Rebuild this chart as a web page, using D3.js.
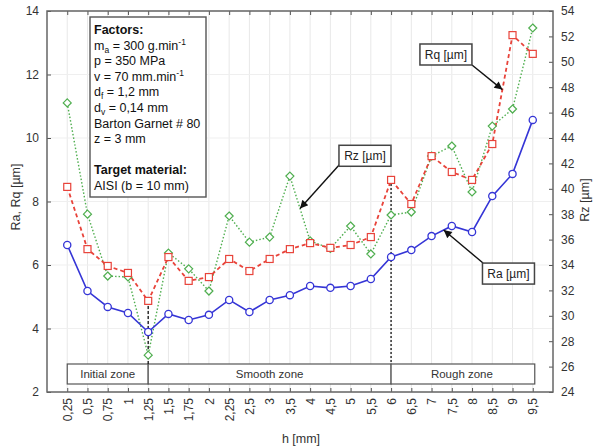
<!DOCTYPE html>
<html>
<head>
<meta charset="utf-8">
<script src="https://cdn.jsdelivr.net/npm/d3@7"></script>
<style>
  body { margin: 0; background: #fff; }
  svg { font-family: "Liberation Sans", Arial, sans-serif; }
  .tick text { fill: #333; font-size: 12px; }
</style>
</head>
<body>
<script>
// h values and their printed labels
var hLabels = ["0,25","0,5","0,75","1","1,25","1,5","1,75","2","2,25","2,5","3","3,5","4","4,5","5","5,5","6","6,5","7","7,5","8","8,5","9","9,5"];
var Ra = [6.63,5.18,4.68,4.49,3.89,4.46,4.27,4.43,4.9,4.52,4.9,5.05,5.34,5.28,5.34,5.56,6.25,6.47,6.91,7.23,7.04,8.17,8.87,10.57];
var Rq = [8.46,6.5,5.97,5.75,4.87,6.25,5.5,5.62,6.19,5.81,6.19,6.5,6.69,6.54,6.63,6.88,8.68,7.92,9.43,8.93,8.68,9.81,13.24,12.65];
var Rz = [46.76,38.0,33.13,33.06,26.9,34.94,33.7,31.95,37.86,35.8,36.2,41.0,35.9,35.3,37.07,34.87,37.94,38.17,42.58,43.37,39.75,44.94,46.28,52.66];
var leftTicks = [2,4,6,8,10,12,14];
var rightTicks = [24,26,28,30,32,34,36,38,40,42,44,46,48,50,52,54];
var zones = [["Initial zone","0,25","1,25"],["Smooth zone","1,25","6"],["Rough zone","6","9,5"]];
var factors = [
  {t:"Factors:", b:true},
  {t:"m", sub:"a", rest:" = 300 g.min", sup:"-1"},
  {t:"p =  350 MPa"},
  {t:"v = 70 mm.min", sup:"-1"},
  {t:"d", sub:"f", rest:" = 1,2 mm"},
  {t:"d", sub:"v", rest:" = 0,14 mm"},
  {t:"Barton Garnet # 80"},
  {t:"z = 3 mm"},
  {t:""},
  {t:"Target material:", b:true},
  {t:"AISI (b = 10 mm)"}
];

var W = 593, H = 448;
var m = {l:47, r:553, t:11, b:392};

var svg = d3.select("body").append("svg")
    .attr("width", W).attr("height", H);

var x = d3.scalePoint().domain(hLabels).range([m.l, m.r]).padding(1);
var yL = d3.scaleLinear().domain([2,14]).range([m.b, m.t]);
var yR = d3.scaleLinear().domain([24,54]).range([m.b, m.t]);
// fractional category position, used for annotations
function xf(f) { return x(hLabels[0]) + f * x.step(); }

// grid
svg.append("g").selectAll("line").data(hLabels).enter().append("line")
    .attr("x1", function(d){return x(d);}).attr("x2", function(d){return x(d);})
    .attr("y1", m.t).attr("y2", m.b)
    .attr("stroke", "#e8e8e8").attr("stroke-width", 1);
svg.append("g").selectAll("line").data(leftTicks).enter().append("line")
    .attr("x1", m.l).attr("x2", m.r)
    .attr("y1", function(d){return yL(d);}).attr("y2", function(d){return yL(d);})
    .attr("stroke", "#efefef").attr("stroke-width", 1);

// axes (ticks pointing inside)
var axB = svg.append("g").attr("transform", "translate(0," + m.b + ")")
    .call(d3.axisBottom(x).tickSizeInner(-4).tickSizeOuter(0).tickPadding(6));
axB.selectAll("text")
    .attr("transform", "rotate(-90)")
    .attr("text-anchor", "end")
    .attr("x", -6).attr("y", 0).attr("dy", "0.35em");
svg.append("g").attr("transform", "translate(0," + m.t + ")")
    .call(d3.axisTop(x).tickSizeInner(-4).tickSizeOuter(0).tickFormat(""));
svg.append("g").attr("transform", "translate(" + m.l + ",0)")
    .call(d3.axisLeft(yL).tickValues(leftTicks).tickSizeInner(-4).tickSizeOuter(0).tickPadding(8));
svg.append("g").attr("transform", "translate(" + m.r + ",0)")
    .call(d3.axisRight(yR).tickValues(rightTicks).tickSizeInner(-4).tickSizeOuter(0).tickPadding(8));
svg.selectAll(".domain").attr("stroke", "none");
svg.selectAll(".tick line").attr("stroke", "#555");

svg.append("rect")
    .attr("x", m.l).attr("y", m.t).attr("width", m.r - m.l).attr("height", m.b - m.t)
    .attr("fill", "none").attr("stroke", "#666").attr("stroke-width", 1.5);

// axis titles
svg.append("text").attr("transform", "translate(20,197) rotate(-90)")
    .attr("text-anchor", "middle").attr("font-size", 12.5).attr("fill", "#333")
    .text("Ra, Rq [µm]");
svg.append("text").attr("transform", "translate(589,200) rotate(-90)")
    .attr("text-anchor", "middle").attr("font-size", 12.5).attr("fill", "#333")
    .text("Rz [µm]");
svg.append("text").attr("x", 301).attr("y", 443)
    .attr("text-anchor", "middle").attr("font-size", 12.5).attr("fill", "#333")
    .text("h [mm]");

// zone strip
var zg = svg.append("g");
zg.selectAll("rect").data(zones).enter().append("rect")
    .attr("x", function(d){return x(d[1]);})
    .attr("width", function(d, i){return x(d[2]) - x(d[1]) + (i == 2 ? 2 : 0);})
    .attr("y", 364).attr("height", 20)
    .attr("fill", "#fff").attr("stroke", "#555").attr("stroke-width", 1.2);
zg.selectAll("text").data(zones).enter().append("text")
    .attr("x", function(d){return (x(d[1]) + x(d[2])) / 2;})
    .attr("y", 378).attr("text-anchor", "middle")
    .attr("font-size", 11.5).attr("fill", "#333")
    .text(function(d){return d[0];});

// dashed boundaries
svg.append("line")
    .attr("x1", x("1,25")).attr("x2", x("1,25"))
    .attr("y1", yL(Rq[4])).attr("y2", 364)
    .attr("stroke", "#222").attr("stroke-width", 1.4).attr("stroke-dasharray", "3,2");
svg.append("line")
    .attr("x1", x("6")).attr("x2", x("6"))
    .attr("y1", yL(Rq[16])).attr("y2", 364)
    .attr("stroke", "#222").attr("stroke-width", 1.4).attr("stroke-dasharray", "2,2");

// series
function line(y) {
  return d3.line().x(function(d, i){return x(hLabels[i]);}).y(function(d){return y(d);});
}
var cGreen = "#4fae4f", cRed = "#e8433a", cBlue = "#3535d6";

svg.append("path").datum(Rz).attr("d", line(yR))
    .attr("fill", "none").attr("stroke", cGreen).attr("stroke-width", 1.4).attr("stroke-dasharray", "1.5,2");
svg.append("path").datum(Rq).attr("d", line(yL))
    .attr("fill", "none").attr("stroke", cRed).attr("stroke-width", 1.8).attr("stroke-dasharray", "4,3");
svg.append("path").datum(Ra).attr("d", line(yL))
    .attr("fill", "none").attr("stroke", cBlue).attr("stroke-width", 1.6);

svg.append("g").selectAll("path").data(Rz).enter().append("path")
    .attr("transform", function(d, i){return "translate(" + x(hLabels[i]) + "," + yR(d) + ")";})
    .attr("d", "M0,-4L4,0L0,4L-4,0Z")
    .attr("fill", "#fff").attr("stroke", cGreen).attr("stroke-width", 1.2);
svg.append("g").selectAll("rect").data(Rq).enter().append("rect")
    .attr("x", function(d, i){return x(hLabels[i]) - 3.5;})
    .attr("y", function(d){return yL(d) - 3.5;})
    .attr("width", 7).attr("height", 7)
    .attr("fill", "#fff").attr("stroke", cRed).attr("stroke-width", 1.2);
svg.append("g").selectAll("circle").data(Ra).enter().append("circle")
    .attr("cx", function(d, i){return x(hLabels[i]);})
    .attr("cy", function(d){return yL(d);})
    .attr("r", 3.6)
    .attr("fill", "#fff").attr("stroke", cBlue).attr("stroke-width", 1.3);

// factors box
svg.append("rect").attr("x", 90).attr("y", 17).attr("width", 116).attr("height", 180)
    .attr("fill", "#fff").attr("stroke", "#555").attr("stroke-width", 1.4);
var ft = svg.append("g").attr("font-size", 12.5).attr("fill", "#111")
    .style("white-space", "pre");
factors.forEach(function(f, i) {
  var t = ft.append("text").attr("x", 94).attr("y", 34 + i * 15.6)
      .attr("font-weight", f.b ? "bold" : null);
  t.append("tspan").text(f.t);
  if (f.sub) t.append("tspan").attr("font-size", 8.5).attr("dy", 3).text(f.sub);
  if (f.rest) t.append("tspan").attr("dy", f.sub ? -3 : 0).text(f.rest);
  if (f.sup) t.append("tspan").attr("font-size", 8.5).attr("dy", -5).text(f.sup);
});

// annotations: label box centre, arrow tail, arrow tip (fractional index, value, scale)
var notes = [
  {t:"Rq [µm]", bx:18.71, bv:12.63, by:yL, tail:[472,65], tf:21.5, tv:(Rq[21] + Rq[22]) / 2, ty:yL},
  {t:"Rz [µm]", bx:14.71, bv:42.6, by:yR, tail:[340,164], tf:11.5, tv:(Rz[11] + Rz[12]) / 2, ty:yR},
  {t:"Ra [µm]", bx:21.8, bv:5.73, by:yL, tail:[483,263], tf:18.6, tv:Ra[18] + 0.6 * (Ra[19] - Ra[18]), ty:yL}
];
svg.append("defs").append("marker").attr("id", "ah")
    .attr("viewBox", "0 0 10 10").attr("refX", 10).attr("refY", 5)
    .attr("markerWidth", 11).attr("markerHeight", 8).attr("markerUnits", "userSpaceOnUse")
    .attr("orient", "auto")
  .append("path").attr("d", "M0,0L10,5L0,10Z").attr("fill", "#111");
notes.forEach(function(n) {
  var cx = xf(n.bx), cy = n.by(n.bv);
  svg.append("line")
      .attr("x1", n.tail[0]).attr("y1", n.tail[1])
      .attr("x2", xf(n.tf)).attr("y2", n.ty(n.tv))
      .attr("stroke", "#111").attr("stroke-width", 1.4).attr("marker-end", "url(#ah)");
  svg.append("rect").attr("x", cx - 26).attr("y", cy - 10.5).attr("width", 52).attr("height", 21)
      .attr("fill", "#fff").attr("stroke", "#444").attr("stroke-width", 1.5);
  svg.append("text").attr("x", cx).attr("y", cy + 4.5).attr("text-anchor", "middle")
      .attr("font-size", 12).attr("fill", "#222").text(n.t);
});
</script>
</body>
</html>
